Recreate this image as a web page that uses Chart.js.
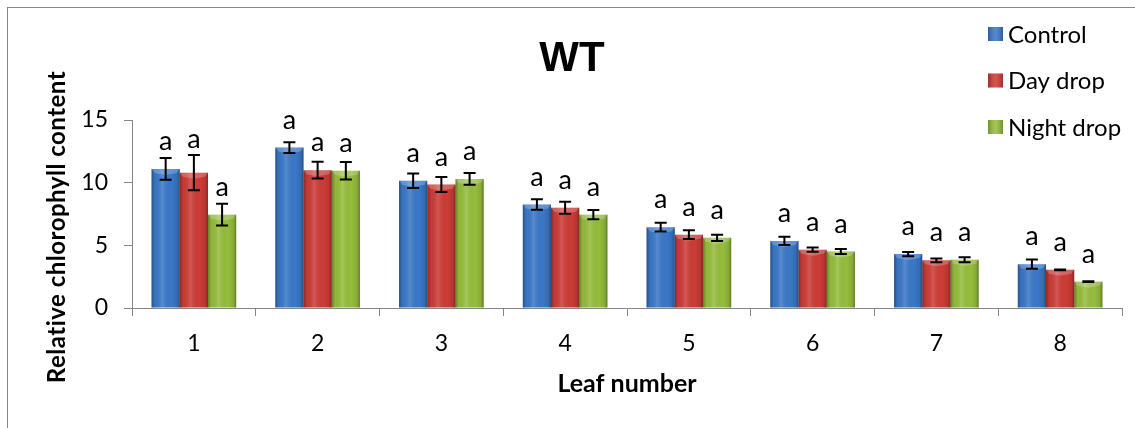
<!DOCTYPE html>
<html>
<head>
<meta charset="utf-8">
<title>WT</title>
<script src="https://cdn.jsdelivr.net/npm/chart.js@4.4.1/dist/chart.umd.min.js"></script>
<style>
  html, body { margin: 0; padding: 0; background: #fff; }
  #wrap { width: 1135px; height: 428px; }
</style>
</head>
<body>
<div id="wrap"><canvas id="chart" width="1135" height="428"></canvas></div>
<script>
// leaf position along the stem
const leafNumbers = ['1', '2', '3', '4', '5', '6', '7', '8'];
const seriesNames = ['Control', 'Day drop', 'Night drop'];
const seriesColors = ['#3a78c8', '#cd3c37', '#96be3c'];

// mean relative chlorophyll content and its error per leaf
const controlMeans = [11.1, 12.8, 10.15, 8.25, 6.45, 5.35, 4.3, 3.5];
const controlErrors = [0.87, 0.43, 0.58, 0.42, 0.35, 0.33, 0.17, 0.36];
const dayDropMeans = [10.8, 11.0, 9.85, 8.0, 5.85, 4.65, 3.8, 3.05];
const dayDropErrors = [1.4, 0.67, 0.6, 0.48, 0.35, 0.17, 0.14, 0.03];
const nightDropMeans = [7.45, 10.95, 10.3, 7.45, 5.6, 4.5, 3.85, 2.1];
const nightDropErrors = [0.86, 0.7, 0.47, 0.36, 0.25, 0.2, 0.2, 0.03];

// significance letters above each bar
const controlLetters = ['a', 'a', 'a', 'a', 'a', 'a', 'a', 'a'];
const dayDropLetters = ['a', 'a', 'a', 'a', 'a', 'a', 'a', 'a'];
const nightDropLetters = ['a', 'a', 'a', 'a', 'a', 'a', 'a', 'a'];

const yMin = 0;
const yMax = 15;
const yStep = 5;

const FONT = 'Lato, "Open Sans", sans-serif';
const AXIS_GREY = '#868686';

const means = [controlMeans, dayDropMeans, nightDropMeans];
const errors = [controlErrors, dayDropErrors, nightDropErrors];
const letters = [controlLetters, dayDropLetters, nightDropLetters];

// white page with the thin grey frame
const framePlugin = {
  id: 'frame',
  beforeDraw(chart) {
    const c = chart.ctx;
    c.save();
    c.fillStyle = '#fff';
    c.fillRect(0, 0, chart.width, chart.height);
    c.strokeStyle = AXIS_GREY;
    c.lineWidth = 1;
    c.strokeRect(7.5, 7.5, chart.width + 20, chart.height + 20);
    c.restore();
  }
};

// glossy shading over every bar
const gelPlugin = {
  id: 'gel',
  afterDatasetsDraw(chart) {
    const c = chart.ctx;
    chart.data.datasets.forEach((ds, di) => {
      chart.getDatasetMeta(di).data.forEach((bar) => {
        const left = bar.x - bar.width / 2;
        const right = bar.x + bar.width / 2;
        const top = Math.min(bar.y, bar.base);
        const h = Math.abs(bar.base - bar.y);
        const g = c.createLinearGradient(left, 0, right, 0);
        g.addColorStop(0, 'rgba(0,0,0,0.32)');
        g.addColorStop(0.12, 'rgba(0,0,0,0.04)');
        g.addColorStop(0.38, 'rgba(255,255,255,0.14)');
        g.addColorStop(0.7, 'rgba(0,0,0,0)');
        g.addColorStop(0.9, 'rgba(0,0,0,0.1)');
        g.addColorStop(1, 'rgba(0,0,0,0.34)');
        c.save();
        c.fillStyle = g;
        c.fillRect(left, top, right - left, h);
        // lighter bevel at the top edge
        c.fillStyle = 'rgba(255,255,255,0.22)';
        c.beginPath();
        c.moveTo(left, top);
        c.lineTo(right, top);
        c.lineTo(right - 3, top + 4);
        c.lineTo(bar.x, top + 6);
        c.lineTo(left + 3, top + 4);
        c.closePath();
        c.fill();
        c.restore();
      });
    });
  }
};

// error bars and letters
const errorPlugin = {
  id: 'errorBars',
  afterDatasetsDraw(chart) {
    const c = chart.ctx;
    const y = chart.scales.y;
    c.save();
    chart.data.datasets.forEach((ds, di) => {
      chart.getDatasetMeta(di).data.forEach((bar, i) => {
        const m = means[di][i];
        const e = errors[di][i];
        const yTop = y.getPixelForValue(m + e);
        const yBot = y.getPixelForValue(m - e);
        c.strokeStyle = '#000';
        c.lineWidth = 2;
        c.beginPath();
        c.moveTo(bar.x, yTop);
        c.lineTo(bar.x, yBot);
        c.moveTo(bar.x - 6, yTop);
        c.lineTo(bar.x + 6, yTop);
        c.moveTo(bar.x - 6, yBot);
        c.lineTo(bar.x + 6, yBot);
        c.stroke();

        const base = Math.min(bar.y - 19, yTop - 7);
        c.fillStyle = '#000';
        c.font = '27px ' + FONT;
        c.textAlign = 'center';
        c.textBaseline = 'alphabetic';
        c.fillText(letters[di][i], bar.x, base);
      });
    });
    c.restore();
  }
};

// chart title, y axis title and the legend at top right
const labelsPlugin = {
  id: 'labels',
  afterDraw(chart) {
    const c = chart.ctx;
    c.save();
    c.fillStyle = '#000';
    c.font = 'bold 42px "Liberation Sans", Arial, sans-serif';
    c.textAlign = 'center';
    c.textBaseline = 'middle';
    c.fillText('WT', 572, 59);

    c.translate(65, 227);
    c.rotate(-Math.PI / 2);
    c.font = 'bold 24px ' + FONT;
    c.letterSpacing = '0.5px';
    c.textBaseline = 'alphabetic';
    c.fillText('Relative chlorophyll content', 0, 0);
    c.restore();

    c.save();
    c.font = '24px ' + FONT;
    c.textAlign = 'left';
    c.textBaseline = 'middle';
    chart.data.datasets.forEach((ds, di) => {
      const cy = 34 + di * 46.5;
      c.fillStyle = ds.backgroundColor;
      c.fillRect(988, cy - 7, 15, 14);
      const g = c.createLinearGradient(988, 0, 1003, 0);
      g.addColorStop(0, 'rgba(0,0,0,0.25)');
      g.addColorStop(0.5, 'rgba(255,255,255,0.12)');
      g.addColorStop(1, 'rgba(0,0,0,0.25)');
      c.fillStyle = g;
      c.fillRect(988, cy - 7, 15, 14);
      c.fillStyle = '#000';
      c.fillText(ds.label, 1008, cy + 1);
    });
    c.restore();
  }
};

const datasets = seriesNames.map((name, i) => ({
  label: name,
  data: means[i],
  backgroundColor: seriesColors[i],
  borderWidth: 0
}));

new Chart(document.getElementById('chart'), {
  type: 'bar',
  data: { labels: leafNumbers, datasets },
  options: {
    responsive: false,
    animation: false,
    events: [],
    layout: { padding: { top: 120, right: 13, bottom: 0, left: 0 } },
    datasets: { bar: { categoryPercentage: 0.684, barPercentage: 1 } },
    plugins: {
      legend: { display: false },
      title: { display: false },
      tooltip: { enabled: false }
    },
    scales: {
      x: {
        afterFit(scale) { scale.height = 120; },
        grid: { drawOnChartArea: false, drawTicks: true, tickLength: 8, color: AXIS_GREY },
        border: { display: true, color: AXIS_GREY, width: 1 },
        ticks: { color: '#000', font: { family: FONT, size: 23 }, padding: 14 },
        title: {
          display: true,
          text: 'Leaf number',
          color: '#000',
          font: { family: FONT, size: 25, weight: 'bold' },
          padding: { top: 0, bottom: 29 }
        }
      },
      y: {
        min: yMin,
        max: yMax,
        afterFit(scale) { scale.width = 132; },
        grid: { drawOnChartArea: false, drawTicks: true, tickLength: 8, color: AXIS_GREY },
        border: { display: true, color: AXIS_GREY, width: 1 },
        ticks: { stepSize: yStep, color: '#000', font: { family: FONT, size: 23 }, padding: 16 }
      }
    }
  },
  plugins: [framePlugin, gelPlugin, errorPlugin, labelsPlugin]
});
</script>
</body>
</html>
